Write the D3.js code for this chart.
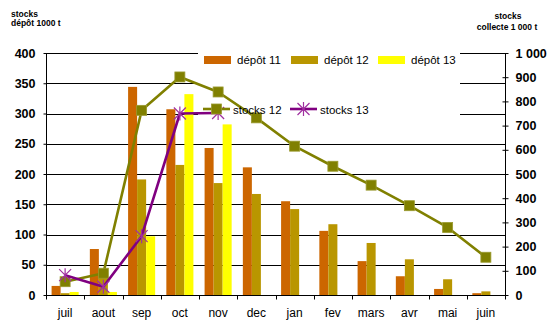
<!DOCTYPE html>
<html>
<head>
<meta charset="utf-8">
<script src="https://cdn.jsdelivr.net/npm/d3@7"></script>
<style>
  body { margin: 0; background: #fff; }
  svg { display: block; font-family: "Liberation Sans", Arial, sans-serif; }
</style>
</head>
<body>
<svg id="chart" width="550" height="322"></svg>
<script>
// Monthly stocks: deposits (thousand t, left axis) and collection stocks (thousand t, right axis)
const months = ["juil", "aout", "sep", "oct", "nov", "dec", "jan", "fev", "mars", "avr", "mai", "juin"];

const depot11 = [15, 76, 344, 307, 243, 211, 155, 106, 56, 31, 10, 3];
const depot12 = [3, 33, 191, 215, 185, 167, 142, 117, 86, 59, 26, 6];
const depot13 = [5, 5, 97, 332, 282, null, null, null, null, null, null, null];

const stocks12 = [55, 90, 763, 901, 839, 732, 615, 532, 454, 369, 279, 156];
const stocks13 = [82, 34, 243, 750, 752, null, null, null, null, null, null, null];

const leftTicks = [0, 50, 100, 150, 200, 250, 300, 350, 400];
const rightTicks = [0, 100, 200, 300, 400, 500, 600, 700, 800, 900, 1000];

const barSeries = [
  { name: "dépôt 11", values: depot11, color: "#cc6600" },
  { name: "dépôt 12", values: depot12, color: "#b99600" },
  { name: "dépôt 13", values: depot13, color: "#ffff00" }
];
const lineSeries = [
  { name: "stocks 12", values: stocks12, color: "#808000", marker: "square" },
  { name: "stocks 13", values: stocks13, color: "#800080", marker: "star" }
];

const svg = d3.select("#chart");
const plot = { left: 46, right: 505, top: 53, bottom: 295 };

const x = d3.scaleBand().domain(months).range([plot.left, plot.right]).padding(0);
const xInner = d3.scaleBand().domain(barSeries.map(s => s.name))
  .range([0, x.bandwidth()]).paddingInner(0).paddingOuter(0.62);
const yLeft = d3.scaleLinear().domain([0, 400]).range([plot.bottom, plot.top]);
const yRight = d3.scaleLinear().domain([0, 1000]).range([plot.bottom, plot.top]);

const frLocale = d3.formatLocale({ decimal: ",", thousands: " ", grouping: [3], currency: ["", ""] });
const fmtRight = frLocale.format(",");

const crisp = v => Math.round(v) + 0.5;

// Horizontal gridlines on the left scale
svg.append("g").selectAll("line")
  .data(leftTicks.filter(t => t > 0))
  .join("line")
  .attr("x1", plot.left).attr("x2", plot.right)
  .attr("y1", d => crisp(yLeft(d))).attr("y2", d => crisp(yLeft(d)))
  .attr("stroke", "#000").attr("stroke-width", 1);

// Legend background
const legendBox = { x: 198, y: 45, w: 262, h: 78 };
svg.append("rect")
  .attr("x", legendBox.x).attr("y", legendBox.y)
  .attr("width", legendBox.w).attr("height", legendBox.h)
  .attr("fill", "#fff");

// Bars
const barG = svg.append("g");
barSeries.forEach(s => {
  barG.append("g").selectAll("rect")
    .data(months.map((m, i) => ({ m, v: s.values[i] })).filter(d => d.v != null))
    .join("rect")
    .attr("x", d => x(d.m) + xInner(s.name))
    .attr("width", xInner.bandwidth())
    .attr("y", d => yLeft(d.v))
    .attr("height", d => yLeft(0) - yLeft(d.v))
    .attr("fill", s.color);
});

// Marker shapes
function drawMarker(g, type, cx, cy, color) {
  if (type === "square") {
    g.append("rect")
      .attr("x", cx - 5).attr("y", cy - 5).attr("width", 10).attr("height", 10)
      .attr("fill", color).attr("stroke", "#9a9a30").attr("stroke-width", 0.8);
  } else {
    const r = 6;
    g.append("path")
      .attr("d", `M${cx - r},${cy - r}L${cx + r},${cy + r}M${cx - r},${cy + r}L${cx + r},${cy - r}M${cx},${cy - r - 1}L${cx},${cy + r + 1}`)
      .attr("stroke", "#a030a0").attr("stroke-width", 1.2).attr("fill", "none");
  }
}

// Lines on the right scale
const cxOf = m => x(m) + x.bandwidth() / 2;
lineSeries.forEach(s => {
  const pts = months.map((m, i) => ({ m, v: s.values[i] })).filter(d => d.v != null);
  const line = d3.line().x(d => cxOf(d.m)).y(d => yRight(d.v));
  svg.append("path")
    .datum(pts)
    .attr("d", line)
    .attr("fill", "none")
    .attr("stroke", s.color)
    .attr("stroke-width", 2.6)
    .attr("stroke-linejoin", "round");
  const mg = svg.append("g");
  pts.forEach(d => drawMarker(mg, s.marker, cxOf(d.m), yRight(d.v), s.color));
});

// Axes
const axisColor = "#000";
const leftAxis = d3.axisLeft(yLeft).tickValues(leftTicks).tickSize(3).tickPadding(8);
const gL = svg.append("g").attr("transform", `translate(${plot.left + 0.5},0)`).call(leftAxis);
gL.select(".domain").attr("d", `M0,${plot.top}V${plot.bottom}`).attr("stroke", axisColor);
gL.selectAll(".tick text")
  .attr("font-size", 12.5).attr("font-weight", "bold").attr("fill", "#000")
  .attr("font-family", "Liberation Sans, Arial, sans-serif");

const rightAxis = d3.axisRight(yRight).tickValues(rightTicks).tickSize(3).tickPadding(7).tickFormat(fmtRight);
const gR = svg.append("g").attr("transform", `translate(${plot.right + 0.5},0)`).call(rightAxis);
gR.select(".domain").attr("d", `M0,${plot.top}V${plot.bottom}`).attr("stroke", axisColor);
gR.selectAll(".tick line").attr("x1", -3);
gR.selectAll(".tick text")
  .attr("font-size", 12.5).attr("font-weight", "bold").attr("fill", "#000")
  .attr("font-family", "Liberation Sans, Arial, sans-serif");

// Category axis: ticks on band boundaries
const gB = svg.append("g").attr("transform", `translate(0,${plot.bottom + 0.5})`);
gB.append("line").attr("x1", plot.left).attr("x2", plot.right).attr("stroke", "#000");
gB.selectAll("line.tk")
  .data(months.slice(1).concat(["_end"]))
  .join("line").attr("class", "tk")
  .attr("x1", (d, i) => crisp(d === "_end" ? plot.right : x(d)))
  .attr("x2", (d, i) => crisp(d === "_end" ? plot.right : x(d)))
  .attr("y1", 0).attr("y2", 4).attr("stroke", "#000");
gB.selectAll("line.tk0").data([months[0]]).join("line").attr("class", "tk0")
  .attr("x1", d => crisp(x(d))).attr("x2", d => crisp(x(d)))
  .attr("y1", 0).attr("y2", 4).attr("stroke", "#000");
gB.selectAll("text")
  .data(months)
  .join("text")
  .attr("x", d => cxOf(d))
  .attr("y", 21)
  .attr("text-anchor", "middle")
  .attr("font-size", 12)
  .attr("fill", "#000")
  .text(d => d);

// Axis titles
const tL = svg.append("text").attr("font-size", 8.5).attr("font-weight", "bold").attr("fill", "#000");
tL.append("tspan").attr("x", 11).attr("y", 16.5).text("stocks");
tL.append("tspan").attr("x", 11).attr("y", 26).text("dépôt 1000 t");
const tR = svg.append("text").attr("font-size", 8.5).attr("font-weight", "bold").attr("fill", "#000")
  .attr("text-anchor", "middle");
tR.append("tspan").attr("x", 508).attr("y", 18.5).text("stocks");
tR.append("tspan").attr("x", 507).attr("y", 29.5).text("collecte 1 000 t");

// Legend
const legend = svg.append("g").attr("font-size", 11.5).attr("fill", "#000");
const barLegendX = [204, 291, 378];
barSeries.forEach((s, i) => {
  legend.append("rect")
    .attr("x", barLegendX[i]).attr("y", 56).attr("width", 27).attr("height", 8)
    .attr("fill", s.color);
  legend.append("text")
    .attr("x", barLegendX[i] + 33).attr("y", 64)
    .text(s.name);
});
const lineLegendX = [203, 290];
lineSeries.forEach((s, i) => {
  const lx = lineLegendX[i];
  legend.append("line")
    .attr("x1", lx).attr("x2", lx + 27).attr("y1", 109).attr("y2", 109)
    .attr("stroke", s.color).attr("stroke-width", 2.6);
  drawMarker(legend, s.marker, lx + 13.5, 109, s.color);
  legend.append("text")
    .attr("x", lx + 30).attr("y", 114)
    .text(s.name);
});
</script>
</body>
</html>
